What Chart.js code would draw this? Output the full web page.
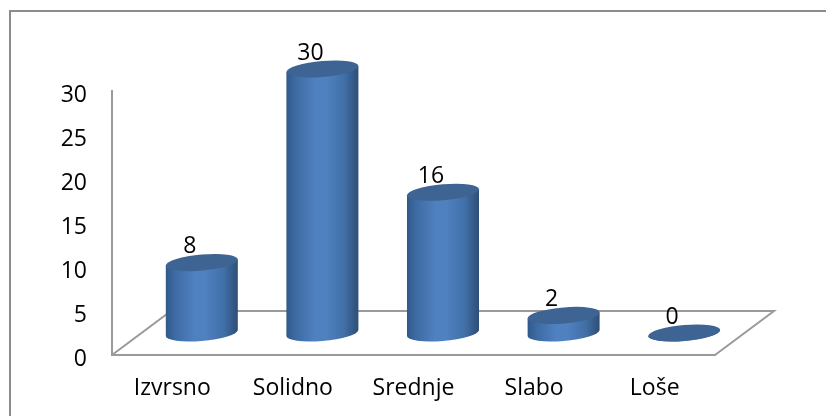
<!DOCTYPE html>
<html>
<head>
<meta charset="utf-8">
<style>
    html, body { margin: 0; padding: 0; background: #fff; }
    #wrap { position: relative; width: 826px; height: 416px; }
</style>
<script src="https://cdn.jsdelivr.net/npm/chart.js@4"></script>
</head>
<body>
<div id="wrap"><canvas id="cylinders"></canvas></div>
<script>
const categories = ['Izvrsno', 'Solidno', 'Srednje', 'Slabo', 'Loše'];
const values = [8, 30, 16, 2, 0];
const yTicks = [0, 5, 10, 15, 20, 25, 30];

const fontFamily = '"Open Sans", sans-serif';
const axisColor = '#9a9a9a';

// the fake 3D: floor depth on the screen, bars stand halfway into it
const depthX = 59;
const depthY = -44;
const tilt = 0.083;
const ellipseY = 8;

const cylinders = {
    id: 'cylinders',
    beforeUpdate(chart) {
        // the digits sit a bit low against their ticks, Chart.js has no option for it
        const y = chart.scales.y;
        if (y && !y.shifted) {
            const drawLabels = y.drawLabels;
            y.drawLabels = function (area) {
                this.ctx.save();
                this.ctx.translate(0, 4);
                drawLabels.call(this, area);
                this.ctx.restore();
            };
            y.shifted = true;
        }
    },
    beforeDraw(chart) {
        // page frame: only top and left edges show up in the picture
        const ctx = chart.ctx;
        ctx.save();
        ctx.strokeStyle = '#8c8c8c';
        ctx.lineWidth = 2;
        ctx.beginPath();
        ctx.moveTo(10, chart.height);
        ctx.lineTo(10, 11);
        ctx.lineTo(chart.width, 11);
        ctx.stroke();
        ctx.restore();
    },
    beforeDatasetsDraw(chart) {
        const ctx = chart.ctx;
        const { left, right } = chart.chartArea;
        const y0 = chart.scales.y.getPixelForValue(0);
        ctx.save();
        ctx.strokeStyle = axisColor;
        ctx.lineWidth = 2;
        ctx.beginPath();
        ctx.moveTo(left, y0);
        ctx.lineTo(left + depthX, y0 + depthY);
        ctx.lineTo(right + depthX, y0 + depthY);
        ctx.lineTo(right, y0);
        ctx.stroke();
        ctx.restore();
    },
    // draws each bar as a cylinder instead of the default rectangle
    beforeDatasetDraw(chart, args) {
        const ctx = chart.ctx;
        args.meta.data.forEach(bar => {
            const r = bar.width / 2;
            const top = bar.y + depthY / 2;
            const bottom = bar.base + depthY / 2;
            ctx.save();
            ctx.translate(bar.x + depthX / 2, 0);
            ctx.transform(1, -tilt, 0, 1, 0, 0);

            const side = ctx.createLinearGradient(-r, 0, r, 0);
            side.addColorStop(0, '#31588a');
            side.addColorStop(0.12, '#3d6aa2');
            side.addColorStop(0.4, '#4f81c0');
            side.addColorStop(0.55, '#4f81c0');
            side.addColorStop(0.8, '#4170a8');
            side.addColorStop(1, '#2e4e76');

            ctx.fillStyle = side;
            ctx.beginPath();
            ctx.moveTo(-r, top);
            ctx.lineTo(-r, bottom);
            ctx.ellipse(0, bottom, r, ellipseY, 0, Math.PI, 0, true);
            ctx.lineTo(r, top);
            ctx.closePath();
            ctx.fill();

            ctx.fillStyle = '#3d6492';
            ctx.beginPath();
            ctx.ellipse(0, top, r, ellipseY, 0, 0, Math.PI * 2);
            ctx.fill();
            ctx.restore();
        });
        return false;
    },
    afterDatasetsDraw(chart) {
        const ctx = chart.ctx;
        const bars = chart.getDatasetMeta(0).data;
        ctx.save();
        ctx.fillStyle = '#000';
        ctx.font = '23px ' + fontFamily;
        ctx.textAlign = 'center';
        ctx.textBaseline = 'middle';
        bars.forEach((bar, i) => {
            ctx.fillText(values[i], bar.x + 17.5, bar.y - 38);
        });
        ctx.restore();
    }
};

new Chart(document.getElementById('cylinders'), {
    type: 'bar',
    data: {
        labels: categories,
        datasets: [{ data: values, barThickness: 72, backgroundColor: '#4f81bd' }]
    },
    plugins: [cylinders],
    options: {
        responsive: true,
        maintainAspectRatio: false,
        animation: false,
        layout: { padding: { left: 0, top: 91, right: 111, bottom: 0 } },
        plugins: { legend: { display: false }, tooltip: { enabled: false } },
        scales: {
            x: {
                grid: { display: false, drawTicks: false },
                border: { display: true, color: axisColor, width: 2 },
                ticks: { color: '#000', padding: 20, maxRotation: 0, font: { family: fontFamily, size: 23 } },
                afterFit: scale => { scale.height = 61; }
            },
            y: {
                min: 0,
                max: 30,
                afterBuildTicks: scale => { scale.ticks = yTicks.map(value => ({ value })); },
                grid: { display: false, drawTicks: false },
                border: { display: true, color: axisColor, width: 2 },
                ticks: { color: '#000', padding: 25, font: { family: fontFamily, size: 23 } },
                afterFit: scale => { scale.width = 112; }
            }
        }
    }
});
</script>
</body>
</html>
